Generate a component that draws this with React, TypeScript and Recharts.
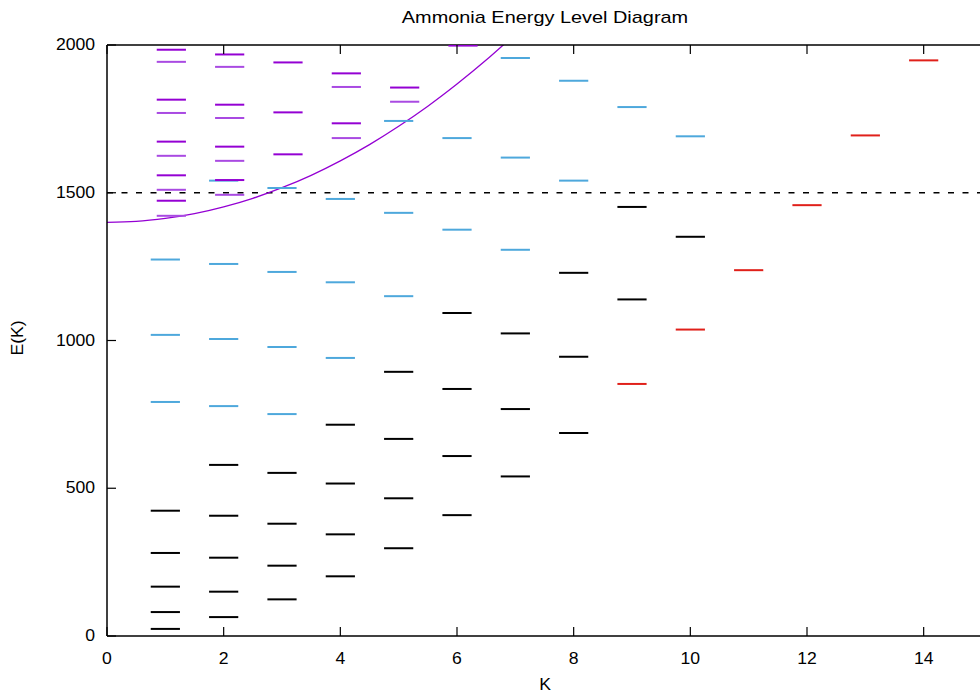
import React from 'react';
import { ComposedChart, XAxis, YAxis, Scatter, Line, ReferenceLine } from 'recharts';

// ---------- text ----------
const chartTitle = 'Ammonia Energy Level Diagram';
const xAxisLabel = 'K';
const yAxisLabel = 'E(K)';
const xTicks = [0, 2, 4, 6, 8, 10, 12, 14];
const yTicks = [0, 500, 1000, 1500, 2000];
const thresholdE = 1500;

// ---------- level data: [K, energies] ----------
const blackLevels: [number, number[]][] = [
  [1, [24, 81, 167, 281, 424]],
  [2, [64, 150, 265, 407, 579]],
  [3, [124, 238, 380, 552]],
  [4, [202, 344, 516, 715]],
  [5, [297, 466, 667, 894]],
  [6, [409, 609, 836, 1093]],
  [7, [540, 768, 1024]],
  [8, [687, 945, 1229]],
  [9, [1139, 1452]],
  [10, [1351]],
];

const blueLevels: [number, number[]][] = [
  [1, [792, 1019, 1274]],
  [2, [778, 1005, 1259, 1541]],
  [3, [751, 978, 1232, 1516]],
  [4, [941, 1197, 1479]],
  [5, [1150, 1432, 1743]],
  [6, [1375, 1685]],
  [7, [1307, 1619, 1956]],
  [8, [1541, 1879]],
  [9, [1790]],
  [10, [1691]],
];

const redLevels: [number, number[]][] = [
  [9, [853]],
  [10, [1037]],
  [11, [1238]],
  [12, [1458]],
  [13, [1694]],
  [14, [1948]],
];

const purpleUpperLevels: [number, number[]][] = [
  [1, [1473, 1559, 1673, 1815, 1984]],
  [2, [1543, 1656, 1798, 1968]],
  [3, [1630, 1772, 1941]],
  [4, [1735, 1904]],
  [5, [1856]],
  [6, [1998]],
];

const purpleLowerLevels: [number, number[]][] = [
  [1, [1422, 1510, 1625, 1770, 1943]],
  [2, [1493, 1608, 1753, 1926]],
  [4, [1685, 1858]],
  [5, [1808]],
];

// curve
const curveK = [0, 0.5, 1, 1.5, 2, 2.5, 3, 3.5, 4, 4.5, 5, 5.5, 6, 6.5, 7];
const curveE = [1400, 1403, 1413, 1429, 1452, 1481, 1517, 1559, 1608, 1663, 1725, 1793, 1868, 1949, 2037];

// ---------- helpers ----------
const flatten = (rows: [number, number[]][]) =>
  rows.flatMap(([k, es]) => es.map((e) => ({ k, e })));

const blackData = flatten(blackLevels);
const blueData = flatten(blueLevels);
const redData = flatten(redLevels);
const purpleUpperData = flatten(purpleUpperLevels);
const purpleLowerData = flatten(purpleLowerLevels);
const curveData = curveK.map((k, i) => ({ k, e: curveE[i] }));

// ---------- layout / style ----------
const W = 1000;
const H = 696;
const PLOT_LEFT = 107;
const PLOT_TOP = 45;
const PLOT_RIGHT = 982;
const PLOT_BOTTOM = 636;
const AXIS_W = 40;
const AXIS_H = 30;
const HALF = 14.6;
const FONT = '"Liberation Sans", Arial, Helvetica, sans-serif';
const FS = 16;
const SX = 1.1;

const levelShape = (color: string, dx = 0) => (props: any) => {
  const { cx, cy } = props;
  if (cx == null || cy == null) return <g />;
  return (
    <line
      x1={cx - HALF + dx}
      x2={cx + HALF + dx}
      y1={cy}
      y2={cy}
      stroke={color}
      strokeWidth={2}
    />
  );
};

const BottomTick = (p: any) => (
  <g>
    <line x1={p.x} x2={p.x} y1={PLOT_BOTTOM} y2={PLOT_BOTTOM - 9} stroke="#000" strokeWidth={1.2} />
    <text
      transform={`translate(${p.x},659) scale(${SX},1)`}
      textAnchor="middle"
      dominantBaseline="central"
      fontFamily={FONT}
      fontSize={FS}
      fill="#000"
    >
      {p.payload.value}
    </text>
  </g>
);

const TopTick = (p: any) => (
  <g>
    <line x1={p.x} x2={p.x} y1={PLOT_TOP} y2={PLOT_TOP + 9} stroke="#000" strokeWidth={1.2} />
  </g>
);

const LeftTick = (p: any) => (
  <g>
    <line x1={PLOT_LEFT} x2={PLOT_LEFT + 9} y1={p.y} y2={p.y} stroke="#000" strokeWidth={1.2} />
    <text
      transform={`translate(95,${p.y}) scale(${SX},1)`}
      textAnchor="end"
      dominantBaseline="central"
      fontFamily={FONT}
      fontSize={FS}
      fill="#000"
    >
      {p.payload.value}
    </text>
  </g>
);

const labelStyle: React.CSSProperties = {
  position: 'absolute',
  fontFamily: FONT,
  whiteSpace: 'nowrap',
  color: '#000',
  lineHeight: 1,
};

export default function App() {
  return (
    <div
      style={{
        position: 'absolute',
        left: 0,
        top: 0,
        width: 980,
        height: 696,
        overflow: 'hidden',
        background: '#fff',
      }}
    >
      <ComposedChart
        width={W}
        height={H}
        margin={{
          top: PLOT_TOP - AXIS_H,
          right: W - PLOT_RIGHT,
          bottom: H - PLOT_BOTTOM - AXIS_H,
          left: PLOT_LEFT - AXIS_W,
        }}
      >
        <XAxis
          xAxisId="b"
          type="number"
          dataKey="k"
          domain={[0, 15]}
          ticks={xTicks}
          allowDataOverflow
          height={AXIS_H}
          tickLine={false}
          tick={BottomTick}
          axisLine={{ stroke: '#000', strokeWidth: 1.5 }}
          interval={0}
        />
        <XAxis
          xAxisId="t"
          orientation="top"
          type="number"
          dataKey="k"
          domain={[0, 15]}
          ticks={xTicks}
          allowDataOverflow
          height={AXIS_H}
          tickLine={false}
          tick={TopTick}
          axisLine={{ stroke: '#000', strokeWidth: 1.5 }}
          interval={0}
        />
        <YAxis
          type="number"
          dataKey="e"
          domain={[0, 2000]}
          ticks={yTicks}
          allowDataOverflow
          width={AXIS_W}
          tickLine={false}
          tick={LeftTick}
          axisLine={{ stroke: '#000', strokeWidth: 1.5 }}
          interval={0}
        />
        <ReferenceLine
          xAxisId="b"
          y={thresholdE}
          stroke="#000"
          strokeWidth={1.3}
          strokeDasharray="6 8.5"
        />
        <Scatter xAxisId="b" data={blackData} dataKey="e" shape={levelShape('#000000')} isAnimationActive={false} />
        <Scatter xAxisId="b" data={blueData} dataKey="e" shape={levelShape('#4ea8dc')} isAnimationActive={false} />
        <Scatter xAxisId="b" data={redData} dataKey="e" shape={levelShape('#e0201a')} isAnimationActive={false} />
        <Scatter xAxisId="b" data={purpleLowerData} dataKey="e" shape={levelShape('#a94ae2', 6)} isAnimationActive={false} />
        <Scatter xAxisId="b" data={purpleUpperData} dataKey="e" shape={levelShape('#9400d3', 6)} isAnimationActive={false} />
        <Line
          xAxisId="b"
          data={curveData}
          dataKey="e"
          type="monotone"
          stroke="#9400d3"
          strokeWidth={1.3}
          dot={false}
          activeDot={false}
          isAnimationActive={false}
        />
      </ComposedChart>
      <div
        style={{
          ...labelStyle,
          left: 544.5,
          top: 17,
          fontSize: 17,
          transform: 'translate(-50%, -50%) scaleX(1.17)',
        }}
      >
        {chartTitle}
      </div>
      <div
        style={{
          ...labelStyle,
          left: 544.5,
          top: 685,
          fontSize: FS,
          transform: 'translate(-50%, -50%) scaleX(1.1)',
        }}
      >
        {xAxisLabel}
      </div>
      <div
        style={{
          ...labelStyle,
          left: 18,
          top: 338,
          fontSize: FS,
          transform: 'translate(-50%, -50%) rotate(-90deg) scaleX(1.1)',
        }}
      >
        {yAxisLabel}
      </div>
    </div>
  );
}
